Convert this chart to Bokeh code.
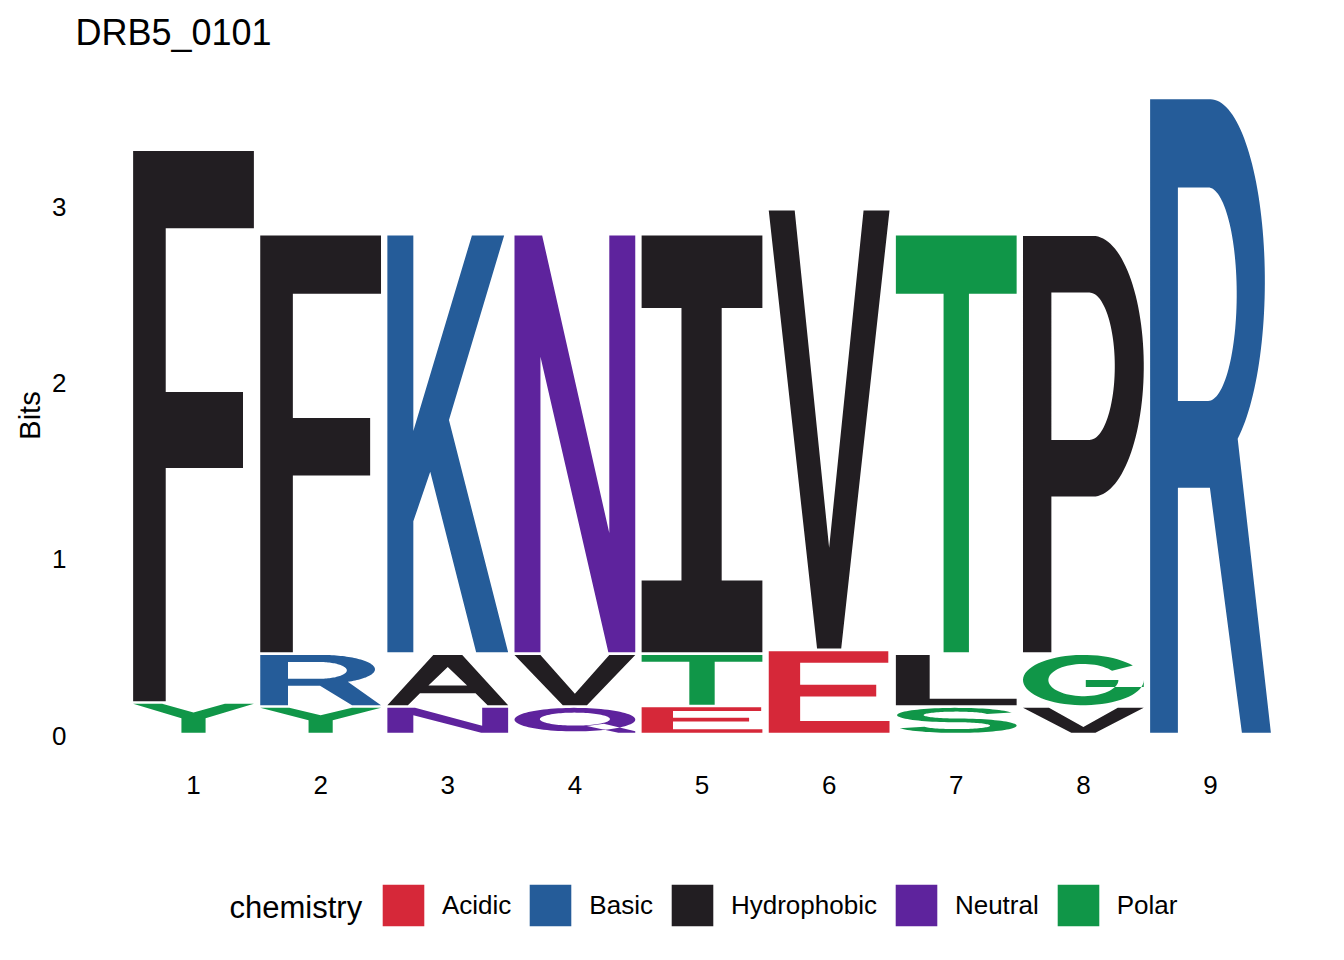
import numpy as np
from bokeh.plotting import figure
from bokeh.layouts import column
from bokeh.models import Range1d, FixedTicker, ColumnDataSource, Legend, LegendItem, Label
from bokeh.embed import file_html
from bokeh.resources import INLINE

# ---------------- data ----------------
title_text = "DRB5_0101"
positions = [1, 2, 3, 4, 5, 6, 7, 8, 9]
# letters of each stack, bottom to top
stack_letters = [["Y", "F"], ["Y", "R", "F"], ["N", "A", "K"], ["Q", "V", "N"],
                 ["E", "T", "I"], ["E", "V"], ["S", "L", "T"], ["V", "G", "P"], ["R"]]
# information (bits) carried by each letter, bottom to top
stack_bits = [[0.18, 3.14], [0.157, 0.301, 2.383], [0.157, 0.301, 2.383],
              [0.157, 0.301, 2.383], [0.16, 0.298, 2.383], [0.479, 2.504],
              [0.157, 0.301, 2.383], [0.157, 0.301, 2.38], [3.614]]
y_ticks = [0, 1, 2, 3]
legend_title = "chemistry"
chem_names = ["Acidic", "Basic", "Hydrophobic", "Neutral", "Polar"]
chem_colors = ["#D62839", "#255C99", "#221E22", "#5E239D", "#109648"]
chem_members = ["DE", "KRH", "AVLIPWFM", "QN", "GSTYC"]

# ---------------- letter outlines in a unit box ----------------
def arc(cx, cy, rx, ry, a0, a1, n=64):
    t = np.radians(np.linspace(a0, a1, n))
    return [(cx + rx * np.cos(a), cy + ry * np.sin(a)) for a in t]

def ring_seg(cx, cy, ax, ay, bx, by, a0, a1):
    return arc(cx, cy, ax, ay, a0, a1) + arc(cx, cy, bx, by, a1, a0)

def area(r):
    x = np.array([q[0] for q in r]); y = np.array([q[1] for q in r])
    return 0.5 * np.sum(x * np.roll(y, -1) - np.roll(x, -1) * y)

def orient(poly):
    ext = poly[0]
    out = [ext]
    for h in poly[1:]:
        if np.sign(area(h)) == np.sign(area(ext)):
            h = h[::-1]
        out.append(h)
    return out

SHAPES = {
    "F": [[[(0, 0), (0.27, 0), (0.27, 0.424), (0.91, 0.424), (0.91, 0.562), (0.27, 0.562),
            (0.27, 0.86), (1, 0.86), (1, 1), (0, 1)]]],
    "Y": [[[(0.40, 0), (0.60, 0), (0.60, 0.5), (1, 1), (0.76, 1), (0.5, 0.7), (0.24, 1),
            (0, 1), (0.40, 0.5)]]],
    "R": [[[(0, 0), (0, 1), (0.5, 1)] + arc(0.5, 0.713, 0.45, 0.287, 90, -60)
           + [(1, 0), (0.76, 0), (0.495, 0.387), (0.23, 0.387), (0.23, 0)],
           [(0.23, 0.524)] + arc(0.48, 0.6925, 0.237, 0.1685, -90, 90) + [(0.23, 0.861)]]],
    "P": [[[(0, 0), (0.235, 0), (0.235, 0.374), (0.58, 0.374)]
           + arc(0.58, 0.687, 0.42, 0.313, -90, 90) + [(0, 1)],
           [(0.235, 0.51), (0.55, 0.51)] + arc(0.55, 0.687, 0.21, 0.177, -90, 90)
           + [(0.235, 0.864)]]],
    "K": [[[(0, 0), (0.215, 0), (0.215, 0.314), (0.355, 0.433), (0.735, 0), (1, 0),
            (0.51, 0.557), (0.967, 1), (0.70, 1), (0.215, 0.531), (0.215, 1), (0, 1)]]],
    "N": [[[(0, 0), (0.215, 0), (0.215, 0.709), (0.777, 0), (1, 0), (1, 1), (0.785, 1),
            (0.785, 0.286), (0.229, 1), (0, 1)]]],
    "I": [[[(0, 0), (1, 0), (1, 0.172), (0.663, 0.172), (0.663, 0.826), (1, 0.826), (1, 1),
            (0, 1), (0, 0.826), (0.33, 0.826), (0.33, 0.172), (0, 0.172)]]],
    "V": [[[(0, 1), (0.215, 1), (0.5, 0.23), (0.785, 1), (1, 1), (0.6, 0), (0.4, 0)]]],
    "T": [[[(0, 1), (1, 1), (1, 0.86), (0.605, 0.86), (0.605, 0), (0.395, 0),
            (0.395, 0.86), (0, 0.86)]]],
    "E": [[[(0, 0), (1, 0), (1, 0.145), (0.26, 0.145), (0.26, 0.445), (0.89, 0.445),
            (0.89, 0.59), (0.26, 0.59), (0.26, 0.86), (0.99, 0.86), (0.99, 1), (0, 1)]]],
    "L": [[[(0, 0), (1, 0), (1, 0.13), (0.28, 0.13), (0.28, 1), (0, 1)]]],
    "A": [[[(0, 0), (0.17, 0), (0.27, 0.24), (0.73, 0.24), (0.83, 0), (1, 0), (0.62, 1),
            (0.38, 1)],
           [(0.34, 0.39), (0.66, 0.39), (0.5, 0.76)]]],
    "Q": [[arc(0.5, 0.53, 0.5, 0.47, 0, 360, 96), arc(0.5, 0.55, 0.29, 0.26, 0, 360, 96)],
          [[(0.60, 0.27), (0.74, 0.36), (1.0, 0.06), (1.0, 0.0), (0.86, 0.0)]]],
    "S": [[ring_seg(0.5, 0.7125, 0.49, 0.2875, 0.27, 0.1375, 20, 270)],
          [ring_seg(0.5, 0.2875, 0.5, 0.2875, 0.28, 0.1375, 90, -160)]],
    "G": [[ring_seg(0.5, 0.5, 0.5, 0.5, 0.29, 0.32, 35, 360)],
          [[(0.52, 0.36), (1.0, 0.36), (1.0, 0.5), (0.52, 0.5)]]],
}

letter_width = 0.95
gap = 0.015

groups = {n: dict(xs=[], ys=[]) for n in chem_names}
for pos, letters, bits in zip(positions, stack_letters, stack_bits):
    y0 = 0.0
    for let, h in zip(letters, bits):
        y1 = y0 + h
        lo, hi = y0 + gap, y1
        x_left = pos - letter_width / 2
        gx, gy = [], []
        for poly in SHAPES[let]:
            poly = orient(poly)
            gx.append([[x_left + u * letter_width for u, v in ring] for ring in poly])
            gy.append([[lo + v * (hi - lo) for u, v in ring] for ring in poly])
        chem = next(n for n, m in zip(chem_names, chem_members) if let in m)
        groups[chem]["xs"].append(gx)
        groups[chem]["ys"].append(gy)
        y0 = y1

FONT = "Liberation Sans"
W = 1336
LEFT, RIGHT = 76, 8

def strip(height):
    f = figure(width=W, height=height, x_range=Range1d(LEFT, W - RIGHT),
               y_range=Range1d(0, height), output_backend="svg", toolbar_location=None,
               x_axis_location=None, y_axis_location=None,
               min_border_left=LEFT, min_border_right=RIGHT, min_border_top=0,
               min_border_bottom=0)
    f.outline_line_color = None
    f.xgrid.visible = False
    f.ygrid.visible = False
    return f

# ---------------- header strip with the title ----------------
H0 = 70
head = strip(H0)
head.add_layout(Label(x=75, y=H0 - 31.5, text=title_text, text_font=FONT,
                      text_font_size="36px", text_baseline="middle",
                      text_align="left", text_color="black"))

# ---------------- main logo figure ----------------
p = figure(width=W, height=750,
           x_range=Range1d(0.0796, 9.9282), y_range=Range1d(-0.142, 3.778),
           output_backend="svg", toolbar_location=None,
           min_border_left=LEFT, min_border_right=RIGHT, min_border_top=0,
           min_border_bottom=60)
p.outline_line_color = None
p.xgrid.visible = False
p.ygrid.visible = False

for name, color in zip(chem_names, chem_colors):
    src = ColumnDataSource(groups[name])
    p.multi_polygons(xs="xs", ys="ys", source=src, fill_color=color, line_color=None)

p.xaxis.ticker = FixedTicker(ticks=positions)
p.yaxis.ticker = FixedTicker(ticks=y_ticks)
for ax in (p.xaxis[0], p.yaxis[0]):
    ax.axis_line_color = None
    ax.major_tick_line_color = None
    ax.minor_tick_line_color = None
    ax.major_tick_out = 0
    ax.major_tick_in = 0
    ax.minor_tick_out = 0
    ax.minor_tick_in = 0
    ax.major_label_text_font = FONT
    ax.major_label_text_font_size = "26px"
    ax.major_label_text_color = "black"
p.xaxis.major_label_standoff = 15
p.yaxis.major_label_standoff = 10
p.yaxis.axis_label = "Bits"
p.yaxis.axis_label_text_font = FONT
p.yaxis.axis_label_text_font_size = "29px"
p.yaxis.axis_label_text_font_style = "normal"
p.yaxis.axis_label_text_color = "black"
p.yaxis.axis_label_standoff = 3

# ---------------- legend strip (pixel coordinates) ----------------
H2 = 135
q = strip(H2)
items = []
for name, color in zip(chem_names, chem_colors):
    # legend-only swatch renderer (no visible mark of its own)
    r = q.rect(x=[np.nan], y=[np.nan], width=1, height=1, fill_color=color, line_color=None)
    items.append(LegendItem(label=name, renderers=[r]))

legend = Legend(items=items, location=(377 - LEFT, 24), orientation="horizontal",
                glyph_width=52, glyph_height=52, label_standoff=13, spacing=13,
                padding=0, margin=0, border_line_color=None, background_fill_alpha=0,
                label_text_font=FONT, label_text_font_size="26px",
                label_text_color="black")
q.add_layout(legend)
q.add_layout(Label(x=229, y=48, text=legend_title, text_font=FONT,
                   text_font_size="31px", text_baseline="middle", text_align="left",
                   text_color="black"))

layout = column(head, p, q, spacing=0)
open("out.html", "w").write(file_html(layout, INLINE))
